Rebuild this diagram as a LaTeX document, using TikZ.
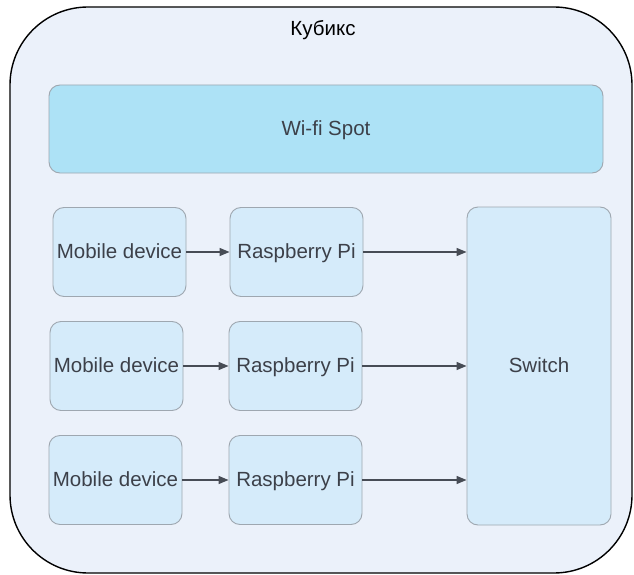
\documentclass[tikz,border=0pt]{standalone}
\usepackage{fontspec}
\setmainfont{Liberation Sans}
\usetikzlibrary{arrows.meta}
\definecolor{outerfill}{HTML}{EBF1FA}
\definecolor{boxfill}{HTML}{D5EBFA}
\definecolor{wififill}{HTML}{ADE2F6}
\definecolor{boxline}{HTML}{9EA7B0}
\definecolor{textgray}{HTML}{3C4049}
\definecolor{arrowgray}{HTML}{474C55}
\begin{document}
\begin{tikzpicture}[x=1pt,y=-1pt,
        devbox/.style={draw=boxline, fill=boxfill, rounded corners=11pt, line width=0.9pt,
            minimum width=133pt, minimum height=89pt, inner sep=0pt, text=textgray,
            text height=13pt, text depth=0pt, font=\fontsize{20.5}{24}\selectfont},
        link/.style={-{Triangle[length=10pt,width=8pt]}, draw=arrowgray, fill=arrowgray, line width=1.3pt}]
        \useasboundingbox (0,0) rectangle (634,575);
        \node[draw=black, fill=outerfill, rounded corners=78pt, line width=1.4pt,
            minimum width=622pt, minimum height=566pt, inner sep=0pt] (kubiks) at (321,290) {};
        \node[text=black, font=\fontsize{20.5}{24}\selectfont] (title) at (323,30) {Кубикс};
        \node[devbox, fill=wififill, minimum width=554pt, minimum height=88pt] (wifi) at (326,129) {Wi-fi Spot};

        \node[devbox] (m1) at (119.5,252) {Mobile device};
        \node[devbox] (m2) at (116.5,366) {Mobile device};
        \node[devbox] (m3) at (115.5,480) {Mobile device};
        \node[devbox] (r1) at (296.5,252) {Raspberry Pi};
        \node[devbox] (r2) at (295.5,366) {Raspberry Pi};
        \node[devbox] (r3) at (295.5,480) {Raspberry Pi};
        \node[devbox, minimum width=144pt, minimum height=318pt] (switch) at (539,366) {Switch};

        \draw[link] (m1) -- (r1);
        \draw[link] (m2) -- (r2);
        \draw[link] (m3) -- (r3);
        \draw[link] (r1.east) -- (r1.east -| switch.west);
        \draw[link] (r2.east) -- (r2.east -| switch.west);
        \draw[link] (r3.east) -- (r3.east -| switch.west);
    \end{tikzpicture}
\end{document}
